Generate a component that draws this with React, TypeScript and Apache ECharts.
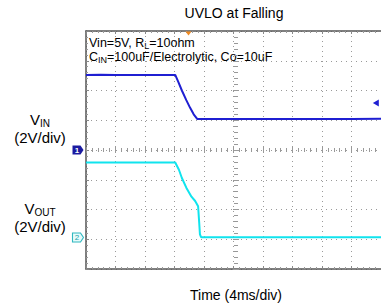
import React, { useEffect, useRef } from "react";
import * as echarts from "echarts";

// time in ms (4 ms/div), voltage in V (2 V/div)
const VIN_TIME = [0, 2, 4, 6, 8, 10, 12.1, 12.5, 13.0, 13.6, 14.1, 14.6, 15.1, 16, 20, 24, 28, 32, 36, 40];
const VIN_VALUES = [5.05, 5.06, 5.04, 5.05, 5.04, 5.05, 5.05, 4.6, 4.0, 3.35, 2.85, 2.4, 2.08, 2.08, 2.09, 2.08, 2.09, 2.08, 2.09, 2.1];
const VOUT_TIME = [0, 4, 8, 12.1, 12.6, 13.0, 13.6, 14.3, 14.8, 15.2, 15.35, 15.45, 15.6, 20, 24, 28, 32, 36, 40];
const VOUT_VALUES = [5.04, 5.04, 5.04, 5.04, 4.55, 4.0, 3.35, 2.74, 2.45, 2.1, 1.0, 0.2, 0.02, 0.02, 0.02, 0.02, 0.02, 0.02, 0.02];
const TRIGGER_TIME = 13.9;
const TRIGGER_LEVEL = 3.16;

const TITLE = "UVLO at Falling";
const X_LABEL = "Time (4ms/div)";

const FONT = "'Liberation Sans', Arial, sans-serif";
const BLUE = "#1f1fd2";
const CYAN = "#10e4ee";

export default function App() {
  const ref = useRef<HTMLDivElement>(null);
  useEffect(() => {
    if (!ref.current) return;
    const chart = echarts.init(ref.current, null, { renderer: "svg" });
    const hiddenAxis = { show: false };
    const border = {
      show: true,
      onZero: false,
      lineStyle: { color: "#555", width: 1.5 },
    };
    const innerTick = { show: true, inside: true, length: 3, lineStyle: { color: "#888" } };
    const minor = { show: true, splitNumber: 5, length: 2, lineStyle: { color: "#999" } };
    const dotted = { show: true, lineStyle: { type: [1, 4], color: "#9a9a9a", width: 1 } };
    const crossTick = { show: true, length: 3, lineStyle: { color: "#999" } };
    const subRich = (size: number, lh: number) => ({
      s: { fontSize: size, fontFamily: FONT, fill: "#000", verticalAlign: "bottom", lineHeight: lh },
    });

    chart.setOption({
      animation: false,
      backgroundColor: "#fff",
      grid: [
        { left: 86, top: 31, width: 300, height: 238 },
        { left: 86, top: 150, width: 300, height: 0 },
        { left: 236, top: 31, width: 0, height: 238 },
      ],
      xAxis: [
        {
          gridIndex: 0, type: "value", min: 0, max: 40, interval: 4, position: "bottom",
          axisLine: border, axisTick: innerTick, minorTick: minor, axisLabel: { show: false },
          splitLine: dotted,
        },
        {
          gridIndex: 0, type: "value", min: 0, max: 40, interval: 4, position: "top",
          axisLine: border, axisTick: innerTick, minorTick: minor, axisLabel: { show: false },
          splitLine: { show: false },
        },
        {
          gridIndex: 1, type: "value", min: 0, max: 40, interval: 4, position: "top",
          axisLine: { show: false, onZero: false }, axisTick: crossTick, minorTick: minor,
          axisLabel: { show: false }, splitLine: { show: false },
        },
        {
          gridIndex: 1, type: "value", min: 0, max: 40, interval: 4, position: "bottom",
          axisLine: { show: false, onZero: false }, axisTick: crossTick, minorTick: minor,
          axisLabel: { show: false }, splitLine: { show: false },
        },
        { gridIndex: 2, type: "value", min: 0, max: 1, ...hiddenAxis },
      ],
      yAxis: [
        {
          gridIndex: 0, type: "value", min: -8, max: 8, interval: 2, position: "left",
          axisLine: border, axisTick: innerTick, minorTick: minor, axisLabel: { show: false },
          splitLine: dotted,
        },
        { gridIndex: 0, type: "value", min: -2.12, max: 13.88, ...hiddenAxis },
        { gridIndex: 1, type: "value", min: 0, max: 1, ...hiddenAxis },
        {
          gridIndex: 2, type: "value", min: -8, max: 8, interval: 2, position: "left",
          axisLine: { show: false, onZero: false }, axisTick: crossTick, minorTick: minor,
          axisLabel: { show: false }, splitLine: { show: false },
        },
        {
          gridIndex: 2, type: "value", min: -8, max: 8, interval: 2, position: "right",
          axisLine: { show: false, onZero: false }, axisTick: crossTick, minorTick: minor,
          axisLabel: { show: false }, splitLine: { show: false },
        },
      ],
      series: [
        {
          type: "line",
          name: "VIN",
          xAxisIndex: 0,
          yAxisIndex: 0,
          data: VIN_TIME.map((t, i) => [t, VIN_VALUES[i]]),
          showSymbol: false,
          symbol: "none",
          lineStyle: { color: BLUE, width: 2 },
          itemStyle: { color: BLUE },
          z: 5,
          markPoint: {
            silent: true,
            z: 10,
            data: [
              {
                coord: [0, 0],
                symbol: "path://M0,0 L8,0 L11,4.5 L8,9 L0,9 Z",
                symbolSize: [11, 9],
                symbolOffset: [-8, 0],
                itemStyle: { color: "#1a1aa0" },
                label: { show: true, formatter: "1", color: "#fff", fontSize: 8, fontWeight: "bold", offset: [-1, 0], fontFamily: FONT },
              },
              {
                coord: [39.3, TRIGGER_LEVEL],
                symbol: "triangle",
                symbolRotate: 90,
                symbolSize: [7, 6],
                itemStyle: { color: BLUE },
                label: { show: false },
              },
              {
                coord: [TRIGGER_TIME, 7.9],
                symbol: "triangle",
                symbolRotate: 180,
                symbolSize: [6, 4],
                symbolOffset: [0, 1],
                itemStyle: { color: "#f08a20" },
                label: { show: false },
              },
            ],
          },
        },
        {
          type: "line",
          name: "VOUT",
          xAxisIndex: 0,
          yAxisIndex: 1,
          data: VOUT_TIME.map((t, i) => [t, VOUT_VALUES[i]]),
          showSymbol: false,
          symbol: "none",
          lineStyle: { color: CYAN, width: 2 },
          itemStyle: { color: CYAN },
          z: 4,
          markPoint: {
            silent: true,
            data: [
              {
                coord: [0, 0],
                symbol: "path://M0,0 L8,0 L11,4.5 L8,9 L0,9 Z",
                symbolSize: [11, 9],
                symbolOffset: [-8, 0],
                itemStyle: { color: "#e6fbfb", borderColor: "#30b8c0", borderWidth: 1 },
                label: { show: true, formatter: "2", color: "#20a0a8", fontSize: 8, offset: [-1, 0], fontFamily: FONT },
              },
            ],
          },
        },
      ],
      graphic: [
        {
          type: "text", x: 234, y: 13,
          style: { text: TITLE, fill: "#000", font: `14px ${FONT}`, align: "center", verticalAlign: "middle" },
        },
        {
          type: "text", x: 236, y: 295,
          style: { text: X_LABEL, fill: "#000", font: `14px ${FONT}`, align: "center", verticalAlign: "middle" },
        },
        {
          type: "text", x: 89, y: 43,
          style: {
            text: "Vin=5V, R{s|L}=10ohm",
            fill: "#000", fontSize: 12.5, fontFamily: FONT, verticalAlign: "middle", lineHeight: 15,
            rich: subRich(9, 10),
          },
        },
        {
          type: "text", x: 89, y: 57,
          style: {
            text: "C{s|IN}=100uF/Electrolytic, Co=10uF",
            fill: "#000", fontSize: 12.5, fontFamily: FONT, verticalAlign: "middle", lineHeight: 15,
            rich: subRich(9, 10),
          },
        },
        {
          type: "text", x: 40, y: 119,
          style: {
            text: "V{s|IN}",
            fill: "#000", fontSize: 15, fontFamily: FONT, align: "center", verticalAlign: "middle", lineHeight: 18,
            rich: subRich(10, 12),
          },
        },
        {
          type: "text", x: 40, y: 137,
          style: { text: "(2V/div)", fill: "#000", font: `15px ${FONT}`, align: "center", verticalAlign: "middle" },
        },
        {
          type: "text", x: 40, y: 208,
          style: {
            text: "V{s|OUT}",
            fill: "#000", fontSize: 15, fontFamily: FONT, align: "center", verticalAlign: "middle", lineHeight: 18,
            rich: subRich(10, 12),
          },
        },
        {
          type: "text", x: 40, y: 226,
          style: { text: "(2V/div)", fill: "#000", font: `15px ${FONT}`, align: "center", verticalAlign: "middle" },
        },
      ],
    });
    return () => chart.dispose();
  }, []);
  return (
    <div
      ref={ref}
      style={{ position: "fixed", left: 0, top: 0, width: 381, height: 307, background: "#fff" }}
    />
  );
}
